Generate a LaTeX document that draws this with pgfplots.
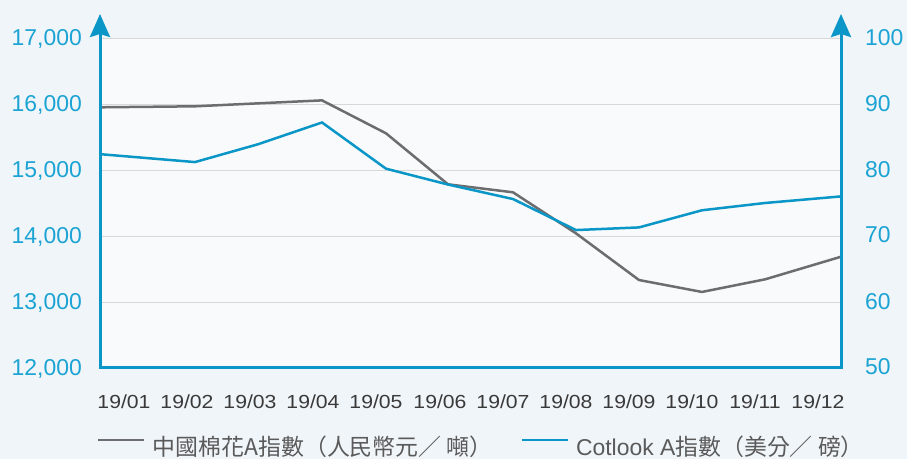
\documentclass[border=0pt]{standalone}
\usepackage{fontspec}
\setmainfont{Liberation Sans}
\newfontfamily\cjk{Noto Sans CJK TC}
\usepackage{pgfplots}
\usepackage{pgfplotstable}
\pgfplotsset{compat=1.18}
\usetikzlibrary{arrows.meta}
\definecolor{cblue}{HTML}{0A96C6}
\definecolor{lblue}{HTML}{1AA3D3}
\definecolor{cgray}{HTML}{6D6D6F}
\definecolor{gridc}{HTML}{D8D8D8}
\definecolor{bgout}{HTML}{F0F5F9}
\definecolor{bgin}{HTML}{F8FAFC}
\definecolor{xlab}{HTML}{3A3A3A}
\definecolor{leg}{HTML}{5A5A5A}

\pgfplotstableread{
x cn
0 15950
95 15965
158 16010
222 16055
286 15556
348 14783
413 14662
476 14040
539 13333
602 13152
665 13343
741 13686
}\cnA
\pgfplotstableread{
x ct
0 82.4
95 81.2
158 83.9
222 87.2
286 80.2
348 77.8
413 75.6
476 70.9
539 71.3
602 73.9
665 75.0
741 76.0
}\ctA

\begin{document}
\begin{tikzpicture}
\path[use as bounding box, fill=bgout] (0,0) rectangle (907bp,459bp);
\fill[bgin] (100bp,91bp) rectangle (841bp,421bp);
\begin{axis}[
  at={(100bp,91bp)}, anchor=south west, scale only axis,
  width=741bp, height=330bp,
  xmin=0, xmax=741, ymin=12000, ymax=17000,
  axis x line*=bottom, axis y line*=left,
  axis line style={draw=none},
  clip=false,
  scaled y ticks=false,
  ytick={12000,13000,...,17000},
  ymajorgrids, grid style={gridc, line width=1bp},
  xtick={24,87,150,213,276,340,403,466,529,592,655,718},
  xticklabels={19/01,19/02,19/03,19/04,19/05,19/06,19/07,19/08,19/09,19/10,19/11,19/12},
  major tick length=0pt, tick style={draw=none},
  /pgf/number format/assume math mode=true,
  /pgf/number format/fixed,
  /pgf/number format/1000 sep={,},
  yticklabel style={font=\fontsize{23}{23}\selectfont, text=lblue, anchor=base east, inner sep=0pt, xshift=-18bp, yshift=-7bp},
  xticklabel style={font=\fontsize{19}{19}\selectfont, text=xlab, anchor=base, inner sep=0pt, yshift=-40bp, xscale=1.12},
  legend columns=2,
  legend style={at={(0,0)}, anchor=west, xshift=-3bp, yshift=-78bp, draw=none, fill=none, inner sep=0pt,
    font=\fontsize{23}{23}\selectfont, text=leg,
    nodes={inner sep=0pt},
    /tikz/every odd column/.append style={column sep=7bp},
    /tikz/every even column/.append style={column sep=28bp}},
  legend image code/.code={\draw[#1, line width=2.5bp] (0bp,6bp) -- (46bp,6bp);},
]
\addplot[cgray, line width=2.5bp] table[x=x, y=cn]{\cnA};
\addlegendentry{{\cjk 中國棉花A指數（人民幣元／ 噸）}}
\addlegendimage{cblue, line width=2.5bp}
\addlegendentry{Cotlook A{\cjk 指數（美分／ 磅）}}
\end{axis}
\begin{axis}[
  at={(100bp,91bp)}, anchor=south west, scale only axis,
  width=741bp, height=330bp,
  xmin=0, xmax=741, ymin=50, ymax=100,
  axis y line*=right, axis x line=none,
  axis line style={draw=none},
  ytick={50,60,...,100}, xtick=\empty,
  major tick length=0pt, tick style={draw=none},
  /pgf/number format/assume math mode=true,
  yticklabel style={font=\fontsize{23}{23}\selectfont, text=lblue, anchor=base west, inner sep=0pt, xshift=24bp, yshift=-7bp},
]
\addplot[cblue, line width=2.5bp] table[x=x, y=ct]{\ctA};
\end{axis}
\draw[cblue, line width=3bp, line join=miter, {Stealth[width=20bp,length=23bp,inset=3bp]}-{Stealth[width=20bp,length=23bp,inset=3bp]}]
  (100bp,445bp) -- (100bp,91bp) -- (841bp,91bp) -- (841bp,445bp);
\end{tikzpicture}
\end{document}
